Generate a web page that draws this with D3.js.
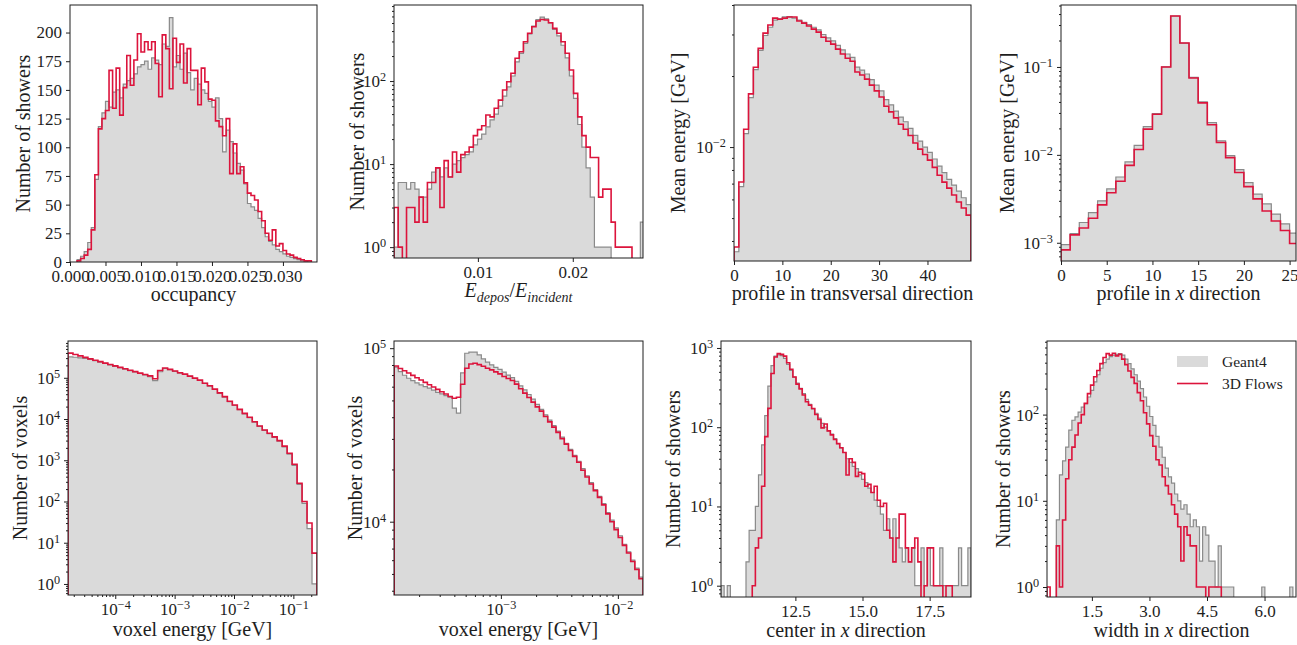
<!DOCTYPE html>
<html>
<head>
<meta charset="utf-8">
<script src="https://cdn.jsdelivr.net/npm/d3@7"></script>
<style>
  body { margin: 0; background: #fff; }
  svg { display: block; font-family: "Liberation Serif", "DejaVu Serif", serif; }
</style>
</head>
<body>
<svg id="chart" width="1297" height="645"></svg>
<script>
// ---- data ----
// occupancy: bins of 0.0005 starting at 0.001
const occBins = { start: 0.001, width: 0.0005, count: 67 };
const occGeant = [2,5,9,17,30,72,118,130,140,135,148,150,143,155,158,160,164,170,172,175,168,178,176,172,190,188,213,170,180,168,182,165,150,160,155,150,147,140,135,143,125,96,115,105,95,86,80,68,51,48,45,38,30,22,18,15,11,9,7,5,4,3,2,1,1,0,0];
const occFlows = [1,3,6,11,28,76,116,125,132,167,134,169,128,152,180,154,176,199,183,192,185,192,173,144,198,186,151,195,174,190,156,186,167,167,137,169,157,142,141,123,118,110,125,77,103,77,83,69,60,58,54,44,36,25,19,28,14,16,10,7,6,4,3,2,1,1,0];
const occXTicks = [0, 0.005, 0.01, 0.015, 0.02, 0.025, 0.03];
const occYTicks = [0, 25, 50, 75, 100, 125, 150, 175, 200];

// E_depos / E_incident
const edepBins = { start: 0.00116, width: 0.00044, count: 60 };
const edepGeant = [1,6,6,5,6,5,4,4,5,8,9,7,9,7,10,11,12,13,14,17,20,23,28,34,40,50,66,85,115,170,215,285,370,460,550,590,560,500,420,350,270,190,115,62,30,16,9,4,1,1,1,1,0,0,0,0,0,0,0,2];
const edepFlows = [3,1,0,3,3,2,4,2,6,6,9,3,11,7,14,8,13,14,16,22,26,29,39,37,47,59,78,98,124,188,225,298,376,451,528,552,543,503,431,376,298,216,136,71,37,22,16,12,12,4,5,5,2,1,1,1,1,0,0,0];
const edepXTicks = [0.01, 0.02];

// profile in transversal direction (bins of 1)
const transBins = { start: 0, width: 1, count: 49 };
const transGeant = [0.0036,0.0068,0.0114,0.0162,0.0213,0.0257,0.0297,0.0322,0.0345,0.0350,0.0356,0.0357,0.0352,0.0345,0.0338,0.0330,0.0322,0.0314,0.0300,0.0290,0.0282,0.0270,0.0258,0.0248,0.0240,0.0218,0.0212,0.0204,0.0193,0.0183,0.0173,0.0159,0.0151,0.0142,0.0134,0.0128,0.0120,0.0112,0.0106,0.0100,0.0095,0.0089,0.0083,0.0078,0.0073,0.0069,0.0065,0.0061,0.0057];
const transFlows = [0.00377,0.00711,0.0119,0.0168,0.0218,0.0262,0.0304,0.0329,0.0352,0.0348,0.0352,0.0356,0.0356,0.0342,0.0335,0.0326,0.0316,0.0307,0.0292,0.0281,0.0273,0.0260,0.0248,0.0238,0.0231,0.0208,0.0202,0.0194,0.0183,0.0173,0.0163,0.0149,0.0141,0.0133,0.0125,0.0119,0.0112,0.0104,0.0098,0.0093,0.0088,0.0082,0.0076,0.0071,0.0067,0.00626,0.00585,0.00552,0.00515];
const transXTicks = [0, 10, 20, 30, 40];

// profile in x direction
const profBins = { start: 0, width: 1, count: 26 };
const profGeant = [9.5e-4,1.27e-3,1.7e-3,2.2e-3,3.0e-3,4.1e-3,5.6e-3,8.3e-3,1.28e-2,2.1e-2,2.95e-2,0.1,0.38,0.187,0.076,0.04,0.0233,0.0144,0.0098,0.0068,0.00484,0.00357,0.00277,0.00212,0.00164,0.00129];
const profFlows = [8.3e-4,1.23e-3,1.47e-3,1.9e-3,2.7e-3,3.7e-3,5.0e-3,7.6e-3,1.15e-2,1.96e-2,2.9e-2,0.1,0.38,0.187,0.075,0.039,0.022,0.0138,0.0093,0.0063,0.00435,0.00316,0.0023,0.00177,0.00138,0.00098];
const profXTicks = [0, 5, 10, 15, 20, 25];

// voxel energy, full range (log bins)
const voxBins = { logStart: -4.796, logEnd: -0.602, count: 50 };
const voxGeant = [320e3,315e3,305e3,295e3,280e3,260e3,241e3,223e3,206e3,190e3,176e3,162e3,149e3,138e3,127e3,117e3,106e3,85e3,140e3,168e3,157e3,143e3,130e3,120e3,108e3,96e3,86e3,73e3,63e3,52e3,42e3,34e3,26.5e3,21.3e3,16.8e3,13.4e3,10.8e3,8.4e3,6.6e3,5.3e3,4.4e3,3.6e3,2.9e3,2.1e3,1.4e3,750,260,90,22,1];
const voxFlows = [397e3,367e3,339e3,313e3,288e3,267e3,246e3,227e3,210e3,194e3,179e3,165e3,152e3,141e3,130e3,120e3,111e3,95e3,150e3,172e3,160e3,146e3,133e3,123e3,110e3,98e3,88e3,74e3,64e3,53e3,43e3,35e3,27e3,21.8e3,17.1e3,13.7e3,11e3,8.6e3,6.8e3,5.4e3,4.5e3,3.7e3,3.0e3,2.2e3,1.48e3,800,277,100,30,5.6];
const voxXTicks = [1e-4, 1e-3, 1e-2, 1e-1];

// voxel energy, low range
const lowBins = { logStart: -3.912, logEnd: -1.784, count: 60 };
const lowGeant = [77.7e3,73.3e3,69.8e3,67.1e3,65.1e3,63.1e3,61.4e3,60.1e3,58.8e3,57.3e3,55.7e3,54.5e3,53.3e3,52.2e3,45.1e3,42.2e3,72e3,93.5e3,94.8e3,94.8e3,91.5e3,86.7e3,83e3,80.2e3,77.5e3,75.5e3,72.8e3,70e3,67.6e3,64.4e3,60.7e3,57.5e3,54.1e3,50.8e3,47.4e3,44.4e3,41.3e3,38.5e3,35.8e3,33.3e3,30.7e3,28.3e3,26.1e3,24.1e3,22.3e3,20.2e3,18.4e3,16.8e3,15.3e3,14e3,12.7e3,11.3e3,10.2e3,9.2e3,8.3e3,7.4e3,6.7e3,6.0e3,5.4e3,4.8e3];
const lowFlows = [78.9e3,76.4e3,74.1e3,71.9e3,69.7e3,67.6e3,65.5e3,63.5e3,61.6e3,59.7e3,57.9e3,56.1e3,54.4e3,52.7e3,51.5e3,52.1e3,62e3,76.6e3,81.1e3,81.8e3,80.4e3,78.7e3,76.6e3,75e3,73e3,71.1e3,68.7e3,66.9e3,65.1e3,62.1e3,58.4e3,55.1e3,52e3,48.9e3,45.9e3,43.4e3,40.4e3,37.6e3,35.1e3,32.7e3,30.1e3,28e3,25.7e3,23.8e3,22e3,19.8e3,18.1e3,16.5e3,15.1e3,13.8e3,12.5e3,11.1e3,10e3,9.0e3,8.1e3,7.3e3,6.6e3,5.9e3,5.3e3,4.7e3];
const lowXTicks = [1e-3, 1e-2];

// center in x direction
const centerBins = { start: 9.73, width: 0.116375, count: 80 };
const centerGeant = [1,0,1,0,0,0,0,0,2,5,5,10,25,60,140,330,600,790,820,800,740,620,520,430,360,310,265,225,195,170,150,130,112,100,90,82,72,62,55,48,40,36,32,30,25,22,20,17,15,12,10,8,5,7,4,7,4,3,2,3,2,3,1,1,3,1,3,1,1,1,3,1,1,1,1,1,3,1,1,3];
const centerFlows = [0,0,0,0,0,0,0,0,0,0,1,3,4,18,76,173,476,770,850,830,790,650,540,430,350,305,255,210,190,172,145,125,98,110,90,80,70,62,55,48,25,40,36,24,27,26,18,19,15,18,12,10,11,5,4,2,4,8,8,3,2,3,4,2,0,1,3,3,1,1,1,0,1,1,0,0,0,0,0,0];
const centerXTicks = [12.5, 15.0, 17.5];

// width in x direction
const widthBins = { start: 0.33, width: 0.081125, count: 80 };
const widthGeant = [0,0,0,6,20,29,42,66,86,94,107,122,134,160,191,240,290,345,400,440,470,490,500,510,490,440,390,340,290,245,200,160,125,95,75,56,42,32,24,19,16,12,10,8,9,7,5,6,5,2,5,4,2,2,1,3,1,1,1,1,0,0,0,0,0,0,0,0,0,1,0,0,0,0,0,0,0,0,1,0];
const widthFlows = [1,0,0,3,1,6,18,30,42,58,80,100,135,175,220,275,325,390,460,510,490,515,480,500,440,380,320,270,230,180,145,105,78,57,43,30,26,19,15,12,9,7,5,2,5,4,3,3,1,1,1,0,1,1,1,1,0,0,0,0,0,0,0,0,0,0,0,0,0,0,0,0,0,0,0,0,0,0,0,0];
const widthXTicks = [1.5, 3.0, 4.5, 6.0];

const seriesNames = ["Geant4", "3D Flows"];

// ---- styles ----
const GREY_FILL = "#dadada";
const GREY_LINE = "#8a8a8a";
const RED = "#dc143c";
const INK = "#1e1e1e";

const svg = d3.select("#chart");

function linEdges(b) { return d3.range(b.count + 1).map(i => b.start + i * b.width); }
function logEdges(b) { return d3.range(b.count + 1).map(i => Math.pow(10, b.logStart + i * (b.logEnd - b.logStart) / b.count)); }

// step outline of a histogram, dropping to the floor at both ends
function histPoints(edges, values, x, y, floor) {
	const pts = [[x(edges[0]), floor]];
	values.forEach((v, i) => {
		const yy = v > 0 ? y(v) : floor;
		pts.push([x(edges[i]), yy], [x(edges[i + 1]), yy]);
	});
	pts.push([x(edges[values.length]), floor]);
	return pts;
}

function logMajors(dom) {
	const out = [];
	for (let k = Math.floor(Math.log10(dom[0])); k <= Math.ceil(Math.log10(dom[1])); k++) {
		const v = Math.pow(10, k);
		if (v >= dom[0] && v <= dom[1]) out.push(v);
	}
	return out;
}
function logMinors(dom) {
	const out = [];
	for (let k = Math.floor(Math.log10(dom[0])); k <= Math.ceil(Math.log10(dom[1])); k++) {
		for (let m = 2; m <= 9; m++) {
			const v = m * Math.pow(10, k);
			if (v >= dom[0] && v <= dom[1]) out.push(v);
		}
	}
	return out;
}

// 10^n written with a raised exponent
function powLabel(sel, v) {
	const e = Math.round(Math.log10(v));
	sel.text("10");
	sel.append("tspan")
	   .attr("dy", "-0.5em")
	   .attr("font-size", "0.72em")
	   .text(e < 0 ? "\u2212" + (-e) : String(e));
}

// text made of plain / italic / subscript pieces
function richText(text, pieces) {
	let shift = 0;
	pieces.forEach(pc => {
		const ts = text.append("tspan").text(pc.t);
		if (pc.i) ts.attr("font-style", "italic");
		if (pc.sub) ts.attr("font-size", "0.7em");
		const target = pc.sub ? 5 : 0;
		if (target !== shift) { ts.attr("dy", target - shift); shift = target; }
	});
}

function drawPanel(p) {
	const x = (p.xLog ? d3.scaleLog() : d3.scaleLinear()).domain(p.xDomain).range([p.left, p.right]);
	const y = (p.yLog ? d3.scaleLog() : d3.scaleLinear()).domain(p.yDomain).range([p.bottom, p.top]);
	const g = svg.append("g");

	const clipId = "clip-" + p.id;
	svg.append("clipPath").attr("id", clipId)
	   .append("rect")
	   .attr("x", p.left).attr("y", p.top)
	   .attr("width", p.right - p.left).attr("height", p.bottom - p.top);

	const floor = p.bottom + 2;
	const line = d3.line();
	const hist = g.append("g").attr("clip-path", `url(#${clipId})`);
	const gPts = histPoints(p.edges, p.geant, x, y, floor);
	hist.append("path").attr("d", line(gPts) + "Z").attr("fill", GREY_FILL);
	hist.append("path").attr("d", line(gPts)).attr("fill", "none")
	    .attr("stroke", GREY_LINE).attr("stroke-width", 1.2).attr("stroke-linejoin", "miter");
	hist.append("path").attr("d", line(histPoints(p.edges, p.flows, x, y, floor))).attr("fill", "none")
	    .attr("stroke", RED).attr("stroke-width", 1.6).attr("stroke-linejoin", "miter");

	// x axis
	const xMaj = p.xLog ? logMajors(p.xDomain) : p.xTicks;
	const xAx = g.append("g").attr("transform", `translate(0,${p.bottom})`)
	             .call(d3.axisBottom(x).tickValues(xMaj).tickSize(4).tickPadding(4)
	                     .tickFormat(p.xLog ? () => "" : p.xFormat))
	             .attr("font-family", null).attr("font-size", 17).attr("color", INK);
	if (p.xLog) {
		xAx.selectAll(".tick text").each(function(d) { powLabel(d3.select(this), d); });
		g.append("g").attr("transform", `translate(0,${p.bottom})`)
		 .call(d3.axisBottom(x).tickValues(logMinors(p.xDomain)).tickSize(2).tickFormat(""))
		 .attr("color", INK)
		 .call(a => a.select(".domain").remove());
	}
	xAx.select(".domain").remove();

	// y axis
	const yMaj = p.yLog ? logMajors(p.yDomain) : p.yTicks;
	const yAx = g.append("g").attr("transform", `translate(${p.left},0)`)
	             .call(d3.axisLeft(y).tickValues(yMaj).tickSize(4).tickPadding(4)
	                     .tickFormat(p.yLog ? () => "" : d3.format("d")))
	             .attr("font-family", null).attr("font-size", 17).attr("color", INK);
	if (p.yLog) {
		yAx.selectAll(".tick text").each(function(d) { powLabel(d3.select(this), d); });
		g.append("g").attr("transform", `translate(${p.left},0)`)
		 .call(d3.axisLeft(y).tickValues(logMinors(p.yDomain)).tickSize(2).tickFormat(""))
		 .attr("color", INK)
		 .call(a => a.select(".domain").remove());
	}
	yAx.select(".domain").remove();

	// frame
	g.append("rect")
	 .attr("x", p.left).attr("y", p.top)
	 .attr("width", p.right - p.left).attr("height", p.bottom - p.top)
	 .attr("fill", "none").attr("stroke", INK).attr("stroke-width", 1);

	// axis labels
	const xl = g.append("text")
	            .attr("x", (p.left + p.right) / 2).attr("y", p.xLabelY)
	            .attr("text-anchor", "middle").attr("font-size", 20).attr("fill", INK);
	richText(xl, p.xLabel);

	g.append("text")
	 .attr("transform", `translate(${p.yLabelX},${(p.top + p.bottom) / 2}) rotate(-90)`)
	 .attr("text-anchor", "middle").attr("dy", "0.35em")
	 .attr("font-size", 20).attr("fill", INK)
	 .text(p.yLabel);

	return { x, y };
}

const fmt3 = d3.format(".3f"), fmt2 = d3.format(".2f"), fmt1 = d3.format(".1f"), fmt0 = d3.format("d");

// ---- top row ----
drawPanel({
	id: "occ", left: 70, right: 317, top: 5, bottom: 262,
	xDomain: [0, 0.0348], yDomain: [0, 224],
	xTicks: occXTicks, xFormat: fmt3, yTicks: occYTicks,
	edges: linEdges(occBins), geant: occGeant, flows: occFlows,
	xLabel: [{ t: "occupancy" }], xLabelY: 301,
	yLabel: "Number of showers", yLabelX: 23
});

drawPanel({
	id: "edep", left: 394, right: 643, top: 5, bottom: 258,
	xDomain: [0.00116, 0.0274], yLog: true, yDomain: [0.74, 824],
	xTicks: edepXTicks, xFormat: fmt2,
	edges: linEdges(edepBins), geant: edepGeant, flows: edepFlows,
	xLabel: [{ t: "E", i: 1 }, { t: "depos", i: 1, sub: 1 }, { t: "/" }, { t: "E", i: 1 }, { t: "incident", i: 1, sub: 1 }],
	xLabelY: 297,
	yLabel: "Number of showers", yLabelX: 357
});

drawPanel({
	id: "trans", left: 734, right: 971, top: 5, bottom: 261,
	xDomain: [0, 49], yLog: true, yDomain: [0.00329, 0.040],
	xTicks: transXTicks, xFormat: fmt0,
	edges: linEdges(transBins), geant: transGeant, flows: transFlows,
	xLabel: [{ t: "profile in transversal direction" }], xLabelY: 300,
	yLabel: "Mean energy [GeV]", yLabelX: 678
});

drawPanel({
	id: "prof", left: 1061, right: 1296, top: 5, bottom: 261,
	xDomain: [0, 25.7], yLog: true, yDomain: [6.2e-4, 0.507],
	xTicks: profXTicks, xFormat: fmt0,
	edges: linEdges(profBins), geant: profGeant, flows: profFlows,
	xLabel: [{ t: "profile in " }, { t: "x", i: 1 }, { t: " direction" }], xLabelY: 300,
	yLabel: "Mean energy [GeV]", yLabelX: 1007
});

// ---- bottom row ----
drawPanel({
	id: "vox", left: 68, right: 317, top: 341, bottom: 595,
	xLog: true, xDomain: [1.6e-5, 0.25], yLog: true, yDomain: [0.54, 7.8e5],
	edges: logEdges(voxBins), geant: voxGeant, flows: voxFlows,
	xLabel: [{ t: "voxel energy [GeV]" }], xLabelY: 636,
	yLabel: "Number of voxels", yLabelX: 20
});

drawPanel({
	id: "low", left: 394, right: 643, top: 341, bottom: 595,
	xLog: true, xDomain: [1.22e-4, 0.0164], yLog: true, yDomain: [3780, 1.1e5],
	edges: logEdges(lowBins), geant: lowGeant, flows: lowFlows,
	xLabel: [{ t: "voxel energy [GeV]" }], xLabelY: 636,
	yLabel: "Number of voxels", yLabelX: 355
});

drawPanel({
	id: "center", left: 721, right: 971, top: 341, bottom: 597,
	xDomain: [9.73, 19.04], yLog: true, yDomain: [0.72, 1225],
	xTicks: centerXTicks, xFormat: fmt1,
	edges: linEdges(centerBins), geant: centerGeant, flows: centerFlows,
	xLabel: [{ t: "center in " }, { t: "x", i: 1 }, { t: " direction" }], xLabelY: 637,
	yLabel: "Number of showers", yLabelX: 673
});

drawPanel({
	id: "width", left: 1047, right: 1296, top: 341, bottom: 597,
	xDomain: [0.33, 6.82], yLog: true, yDomain: [0.766, 714],
	xTicks: widthXTicks, xFormat: fmt1,
	edges: linEdges(widthBins), geant: widthGeant, flows: widthFlows,
	xLabel: [{ t: "width in " }, { t: "x", i: 1 }, { t: " direction" }], xLabelY: 637,
	yLabel: "Number of showers", yLabelX: 1003
});

// ---- legend (last panel) ----
const legend = svg.append("g").attr("font-size", 15.5).attr("fill", INK);
legend.append("rect").attr("x", 1177).attr("y", 356).attr("width", 31).attr("height", 11).attr("fill", GREY_FILL);
legend.append("line").attr("x1", 1177).attr("x2", 1208).attr("y1", 383.5).attr("y2", 383.5)
      .attr("stroke", RED).attr("stroke-width", 1.6);
legend.append("text").attr("x", 1222).attr("y", 367).text(seriesNames[0]);
legend.append("text").attr("x", 1222).attr("y", 389).text(seriesNames[1]);
</script>
</body>
</html>
